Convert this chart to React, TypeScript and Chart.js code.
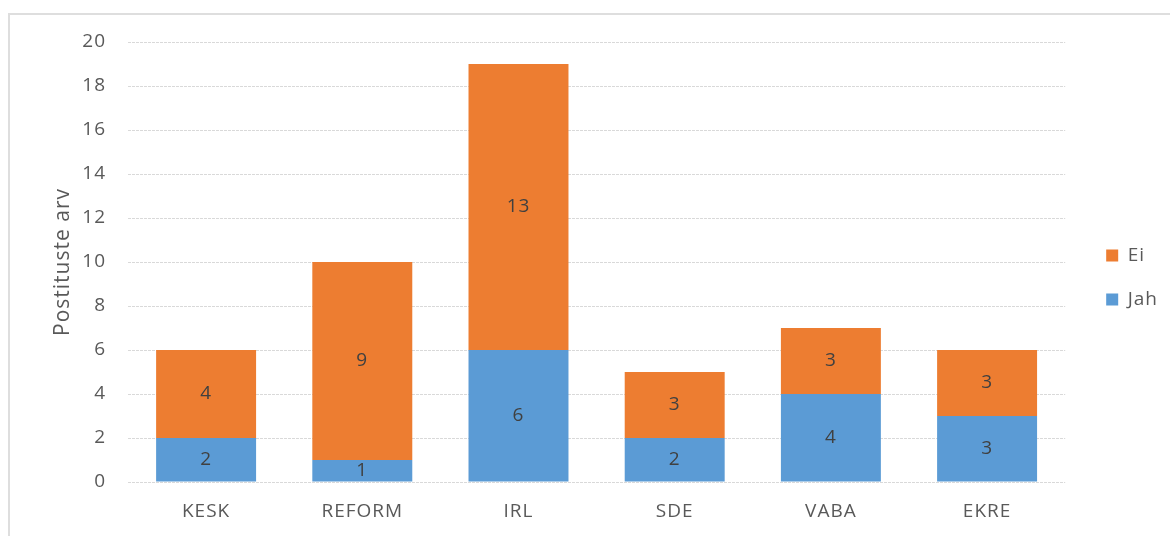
import React, { useEffect, useRef } from "react";
import { Chart, registerables } from "chart.js";

Chart.register(...registerables);

const categories = ["KESK", "REFORM", "IRL", "SDE", "VABA", "EKRE"];
const jahValues = [2, 1, 6, 2, 4, 3];
const eiValues = [4, 9, 13, 3, 3, 3];
const yTicks = [0, 2, 4, 6, 8, 10, 12, 14, 16, 18, 20];

const FONT = "'Open Sans', 'DejaVu Sans', sans-serif";
const FS = 19;

const spacing = {
  id: "spacing",
  beforeDraw(chart: any) {
    (chart.ctx as any).letterSpacing = "1px";
  },
  afterDraw(chart: any) {
    (chart.ctx as any).letterSpacing = "0px";
  },
};

const barLabels = {
  id: "barLabels",
  afterDatasetsDraw(chart: any) {
    const ctx = chart.ctx;
    ctx.save();
    ctx.fillStyle = "#404040";
    ctx.font = `${FS}px ${FONT}`;
    ctx.textAlign = "center";
    ctx.textBaseline = "middle";
    chart.data.datasets.forEach((ds: any, i: number) => {
      const meta = chart.getDatasetMeta(i);
      meta.data.forEach((el: any, j: number) => {
        const v = ds.data[j];
        ctx.fillText(String(v), el.x, (el.y + el.base) / 2);
      });
    });
    ctx.restore();
  },
};

export default function App() {
  const ref = useRef<HTMLCanvasElement>(null);
  useEffect(() => {
    const chart = new Chart(ref.current!, {
      type: "bar",
      data: {
        labels: categories,
        datasets: [
          { label: "Jah", data: jahValues, backgroundColor: "#5B9BD5", barPercentage: 0.64, categoryPercentage: 1 },
          { label: "Ei", data: eiValues, backgroundColor: "#ED7D31", barPercentage: 0.64, categoryPercentage: 1 },
        ],
      },
      options: {
        animation: false,
        responsive: false,
        layout: { padding: { left: 50, top: 29, right: 5, bottom: 10 } },
        plugins: {
          tooltip: { enabled: false },
          legend: {
            position: "right",
            reverse: true,
            labels: {
              boxWidth: 12,
              boxHeight: 12,
              padding: 25,
              color: "#595959",
              font: { family: FONT, size: FS },
            },
          },
        },
        scales: {
          x: {
            stacked: true,
            grid: { display: false, drawTicks: false },
            border: { display: false },
            afterFit: (s: any) => { s.height = 44; },
            ticks: { color: "#595959", font: { family: FONT, size: FS }, padding: 18 },
          },
          x2: {
            position: "top",
            display: true,
            grid: { display: false, drawTicks: false },
            border: { display: false },
            ticks: { display: false },
            afterFit: (s: any) => { s.height = 13; },
          },
          y: {
            stacked: true,
            min: 0,
            max: 20,
            afterBuildTicks: (s: any) => { s.ticks = yTicks.map((v) => ({ value: v })); },
            afterFit: (s: any) => { s.width = 78; },
            grid: { color: "#d9d9d9", drawTicks: false },
            border: { display: false, dash: [3, 1] },
            ticks: { color: "#595959", font: { family: FONT, size: FS }, padding: 22 },
            title: {
              display: true,
              text: "Postituste arv",
              color: "#595959",
              font: { family: FONT, size: 21 },
              padding: { top: 0, bottom: 0 },
            },
          },
          y2: {
            position: "right",
            display: true,
            min: 0,
            max: 20,
            afterFit: (s: any) => { s.width = 16; },
            grid: { display: false },
            border: { display: false },
            ticks: { display: false },
          },
        },
      },
      plugins: [spacing, barLabels],
    });
    return () => chart.destroy();
  }, []);
  return (
    <div>
      <div style={{ position: "fixed", left: 8, top: 13, width: 1300, height: 700, border: "2px solid #dedede", boxSizing: "border-box" }} />
      <canvas ref={ref} width={1170} height={536} style={{ position: "fixed", left: 0, top: 0 }} />
    </div>
  );
}
